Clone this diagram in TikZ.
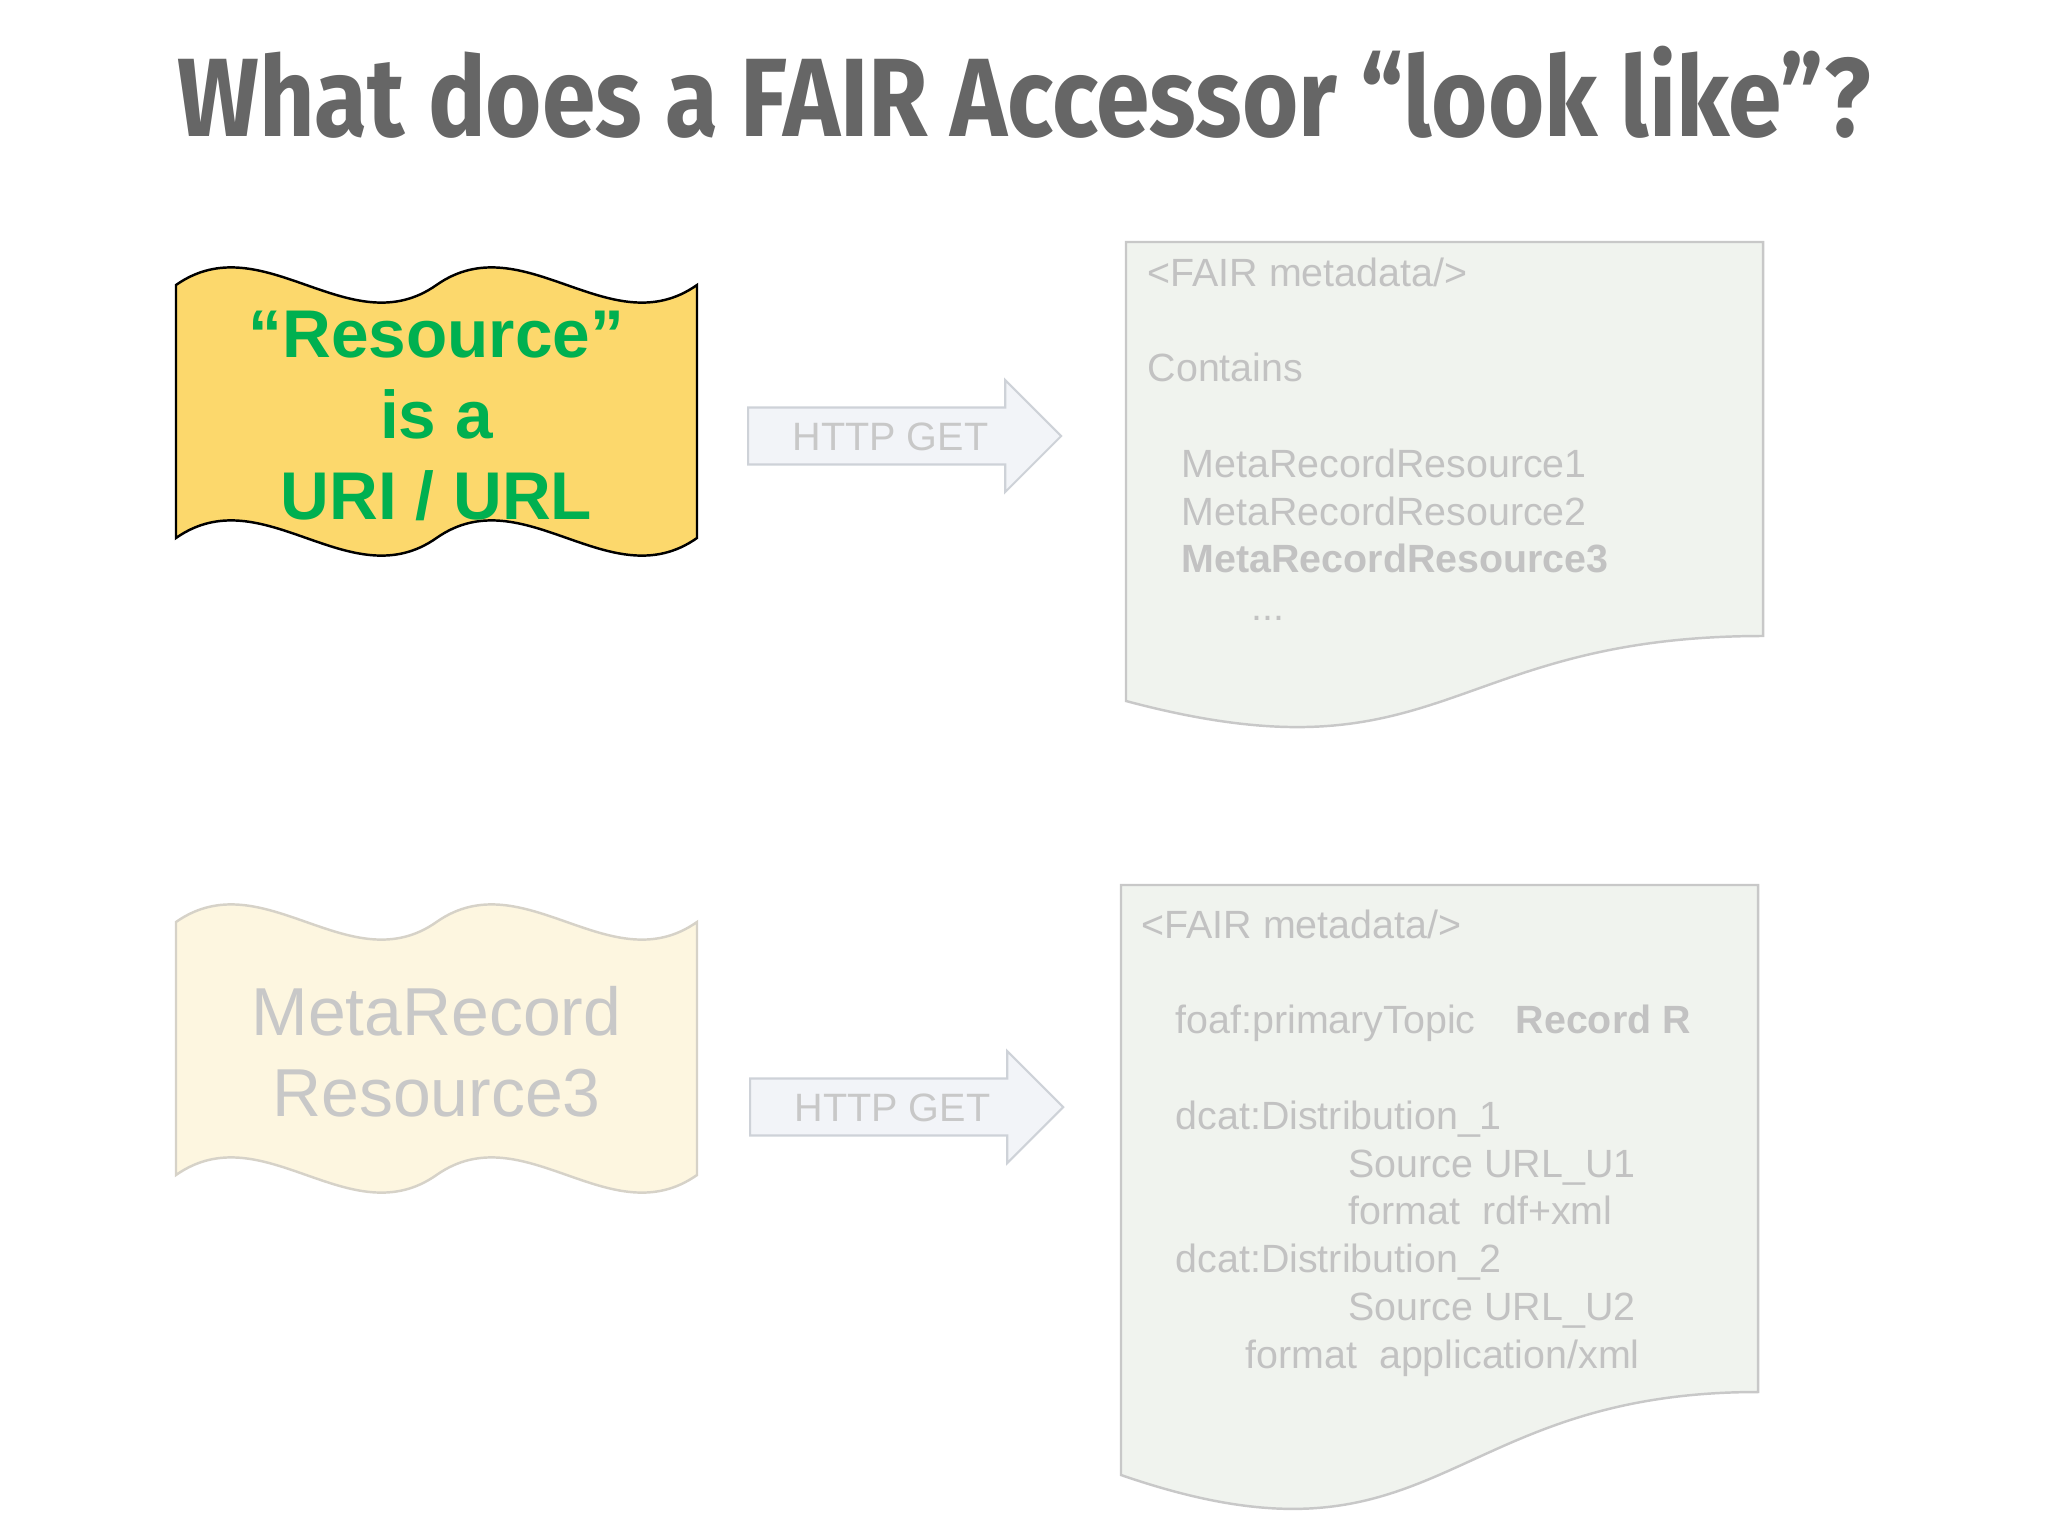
\documentclass[tikz,border=0pt]{standalone}
\usepackage{fontspec}
\setmainfont{Liberation Sans}
\newfontfamily\titlefont{Fira Sans}
\usetikzlibrary{shapes.arrows}

\definecolor{titlegray}{RGB}{102,102,102}
\definecolor{resgreen}{RGB}{0,176,80}
\definecolor{bannerfill}{RGB}{252,216,108}
\definecolor{fadedfill}{RGB}{253,246,224}
\definecolor{fadedline}{RGB}{214,210,200}
\definecolor{fadedtext}{RGB}{200,200,200}
\definecolor{docfill}{RGB}{240,243,238}
\definecolor{docline}{RGB}{200,200,200}
\definecolor{doctext}{RGB}{194,194,194}
\definecolor{getfill}{RGB}{242,244,248}
\definecolor{getline}{RGB}{206,210,216}

\tikzset{
  titletext/.style={anchor=base, text=titlegray, font=\titlefont\bfseries\fontsize{31.7}{38}\selectfont},
  banner/.style={draw=black, line width=0.7pt, fill=bannerfill},
  fadedbanner/.style={draw=fadedline, line width=0.7pt, fill=fadedfill},
  restext/.style={align=center, text=resgreen, font=\bfseries\fontsize{19.2}{23.1}\selectfont},
  fadedtext/.style={align=center, text=fadedtext, font=\fontsize{19.3}{23}\selectfont},
  getarrow/.style={single arrow, draw=getline, fill=getfill, line width=0.6pt,
    text=fadedtext, font=\fontsize{11.25}{13}\selectfont,
    text height=8.3pt, text depth=0pt, inner ysep=3.65pt,
    single arrow head extend=0.275cm, minimum height=3.13cm},
  doc/.style={draw=docline, line width=0.7pt, fill=docfill},
  docline/.style={anchor=base west, inner sep=0pt, text=doctext, font=\fontsize{11.2}{13.5}\selectfont}
}

\begin{document}
\begin{tikzpicture}[x=0.01cm, y=-0.01cm]
  \useasboundingbox (0,0) rectangle (2048,1536);
  % title
  \node[titletext] (title) at (1024,136) {\scalebox{0.866}[1]{What does a FAIR Accessor “look like”?}};

  % resource banner
  \draw[banner] (176,285) .. controls (262.8,224) and (349.7,346) .. (436.5,285)
    .. controls (523.3,224) and (610.2,346) .. (697,285) -- (697,538)
    .. controls (610.2,599) and (523.3,477) .. (436.5,538)
    .. controls (349.7,599) and (262.8,477) .. (176,538) -- cycle;
  \node[restext] (res) at (436.5,416) {“Resource”\\is a\\URI / URL};

  % faded banner
  \begin{scope}[shift={(0,637)}]
    \draw[fadedbanner] (176,285) .. controls (262.8,224) and (349.7,346) .. (436.5,285)
      .. controls (523.3,224) and (610.2,346) .. (697,285) -- (697,538)
      .. controls (610.2,599) and (523.3,477) .. (436.5,538)
      .. controls (349.7,599) and (262.8,477) .. (176,538) -- cycle;
  \end{scope}
  \node[fadedtext] (meta3) at (436.5,1052) {MetaRecord\\Resource3};

  % arrows
  \node[getarrow, anchor=tail] (get1) at (747,436) {HTTP GET};
  \node[getarrow, anchor=tail] (get2) at (749,1107) {HTTP GET};

  % first document
  \draw[doc] (1126,242) -- (1763,242) -- (1763,636)
    .. controls (1444.5,636) and (1444.5,786) .. (1126,701) -- cycle;
  \node[docline] (d1a) at (1147,286) {<FAIR metadata/>};
  \node[docline] (d1b) at (1147,381.6) {Contains};
  \node[docline] (d1c) at (1181,477.2) {MetaRecordResource1};
  \node[docline] (d1d) at (1181,525) {MetaRecordResource2};
  \node[docline] (d1e) at (1181,572.8) {\textbf{MetaRecordResource3}};
  \node[docline] (d1f) at (1251,620.6) {...};

  % second document
  \draw[doc] (1121,885) -- (1758,885) -- (1758,1392)
    .. controls (1439.5,1392) and (1439.5,1585) .. (1121,1475) -- cycle;
  \node[docline] (d2a) at (1141,938) {<FAIR metadata/>};
  \node[docline] (d2b) at (1175,1033.6) {foaf:primaryTopic};
  \node[docline] (d2c) at (1515,1033.6) {\textbf{Record R}};
  \node[docline] (d2d) at (1175,1129.2) {dcat:Distribution\_1};
  \node[docline] (d2e) at (1348,1177) {Source URL\_U1};
  \node[docline] (d2f) at (1348,1224.8) {format\ \ rdf+xml};
  \node[docline] (d2g) at (1175,1272.6) {dcat:Distribution\_2};
  \node[docline] (d2h) at (1348,1320.4) {Source URL\_U2};
  \node[docline] (d2i) at (1245,1368.2) {format\ \ application/xml};
\end{tikzpicture}
\end{document}
